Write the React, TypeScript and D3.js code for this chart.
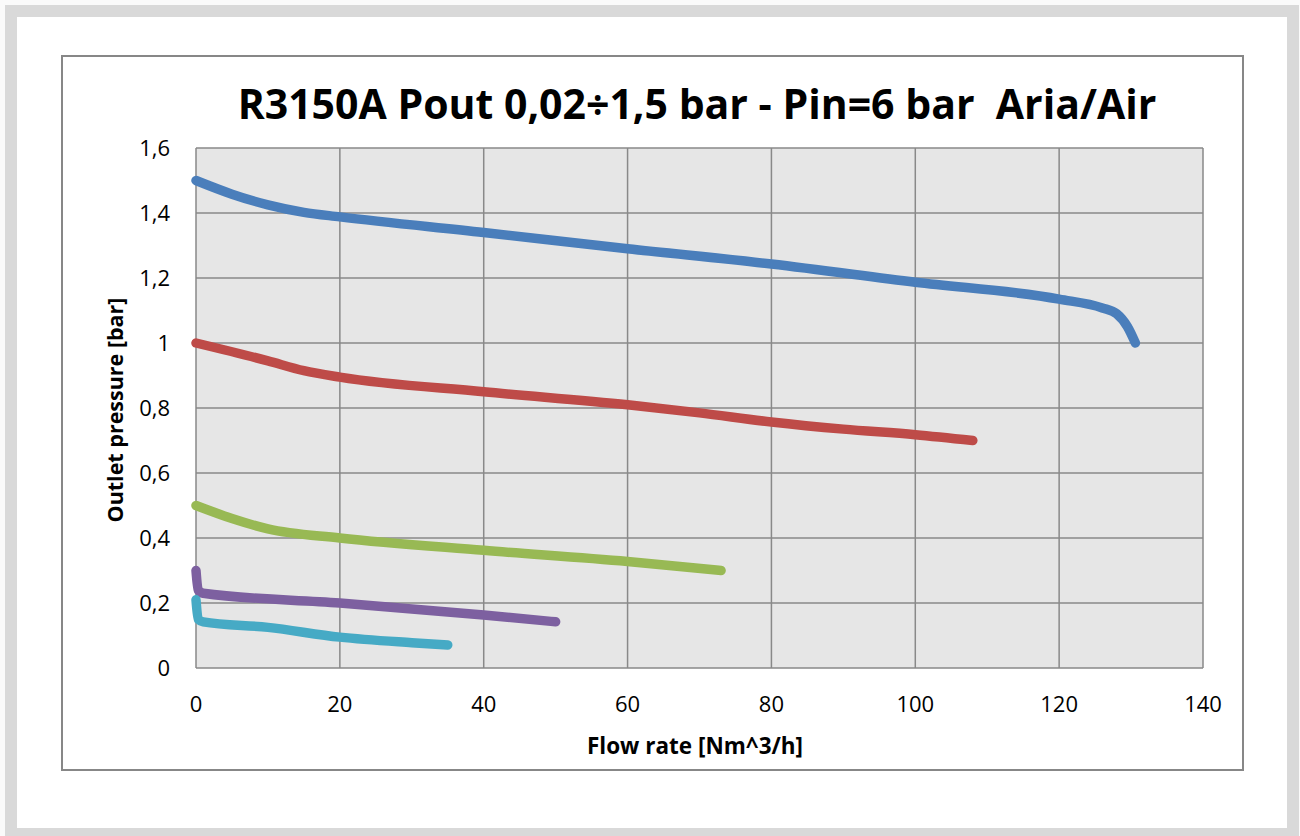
import * as d3 from "d3";

const W = 1300, H = 836;
const m = { left: 196, right: 1203, top: 148, bottom: 668 };

const title = "R3150A Pout 0,02÷1,5 bar - Pin=6 bar  Aria/Air";
const xLabel = "Flow rate [Nm^3/h]";
const yLabel = "Outlet pressure [bar]";

const xTicks = [0, 20, 40, 60, 80, 100, 120, 140];
const yTicks = [0, 0.2, 0.4, 0.6, 0.8, 1, 1.2, 1.4, 1.6];

// series: [flow, pressure]
const blue: [number, number][] = [
  [0, 1.5], [5, 1.458], [10, 1.425], [15, 1.402], [20, 1.388], [40, 1.34], [60, 1.29],
  [80, 1.243], [100, 1.187], [120, 1.135], [126, 1.108], [128, 1.09], [129.5, 1.05], [130.6, 1.0],
];
const red: [number, number][] = [
  [0, 1.0], [10, 0.945], [15, 0.915], [20, 0.895], [40, 0.85], [60, 0.81], [70, 0.785],
  [80, 0.757], [90, 0.735], [100, 0.718], [108, 0.7],
];
const green: [number, number][] = [
  [0, 0.5], [5, 0.46], [10, 0.428], [20, 0.4], [40, 0.362], [60, 0.328], [73, 0.3],
];
const purple: [number, number][] = [
  [0, 0.3], [0.3, 0.24], [1, 0.23], [20, 0.2], [40, 0.163], [50, 0.142],
];
const cyan: [number, number][] = [
  [0, 0.21], [0.3, 0.15], [1, 0.142], [10, 0.125], [20, 0.095], [30, 0.078], [35, 0.071],
];

const series = [
  { data: blue, color: "#4a7ebb" },
  { data: red, color: "#be4b48" },
  { data: green, color: "#98b954" },
  { data: purple, color: "#7d60a0" },
  { data: cyan, color: "#46aac5" },
];

const fmt = (v: number) => String(+v.toFixed(1)).replace(".", ",");

export default function App() {
  const x = d3.scaleLinear().domain([0, 140]).range([m.left, m.right]);
  const y = d3.scaleLinear().domain([0, 1.6]).range([m.bottom, m.top]);
  const line = d3.line<[number, number]>()
    .x(d => x(d[0])).y(d => y(d[1]))
    .curve(d3.curveMonotoneX);
  const font = "Open Sans, sans-serif";
  const grid = "#898989";

  return (
    <svg width={W} height={H} style={{ position: "absolute", left: 0, top: 0 }}
      fontFamily={font}>
      <rect x={0} y={0} width={W} height={H} fill="#fafafa" />
      <rect x={11} y={11} width={1282} height={823} fill="#ffffff"
        stroke="#d9d9d9" strokeWidth={12} />
      <rect x={62} y={56} width={1181} height={714} fill="#ffffff"
        stroke="#878787" strokeWidth={2} />

      <rect x={m.left} y={m.top} width={m.right - m.left} height={m.bottom - m.top}
        fill="#e6e6e6" />
      {yTicks.map(t => (
        <line key={"gy" + t} x1={m.left} x2={m.right} y1={y(t)} y2={y(t)}
          stroke={grid} strokeWidth={1.5} />
      ))}
      {xTicks.map(t => (
        <line key={"gx" + t} x1={x(t)} x2={x(t)} y1={m.top} y2={m.bottom}
          stroke={grid} strokeWidth={1.5} />
      ))}

      {series.map((s, i) => (
        <path key={i} d={line(s.data) ?? ""} fill="none" stroke={s.color}
          strokeWidth={9.5} strokeLinecap="round" strokeLinejoin="round" />
      ))}

      {yTicks.map(t => (
        <text key={"ty" + t} x={170} y={y(t)} dy="0.35em" textAnchor="end"
          fontSize={22} fill="#000">{fmt(t)}</text>
      ))}
      {xTicks.map(t => (
        <text key={"tx" + t} x={x(t)} y={712} textAnchor="middle"
          fontSize={22} fill="#000">{t}</text>
      ))}

      <text x={697} y={119} textAnchor="middle" fontSize={41} fontWeight="bold"
        fill="#000" style={{ whiteSpace: "pre" }}>{title}</text>
      <text x={695} y={754} textAnchor="middle" fontSize={22.5} fontWeight="bold"
        fill="#000">{xLabel}</text>
      <text transform={`translate(123,${(m.top + m.bottom) / 2 + 2}) rotate(-90)`}
        textAnchor="middle" fontSize={21.5} fontWeight="bold" fill="#000">{yLabel}</text>
    </svg>
  );
}
